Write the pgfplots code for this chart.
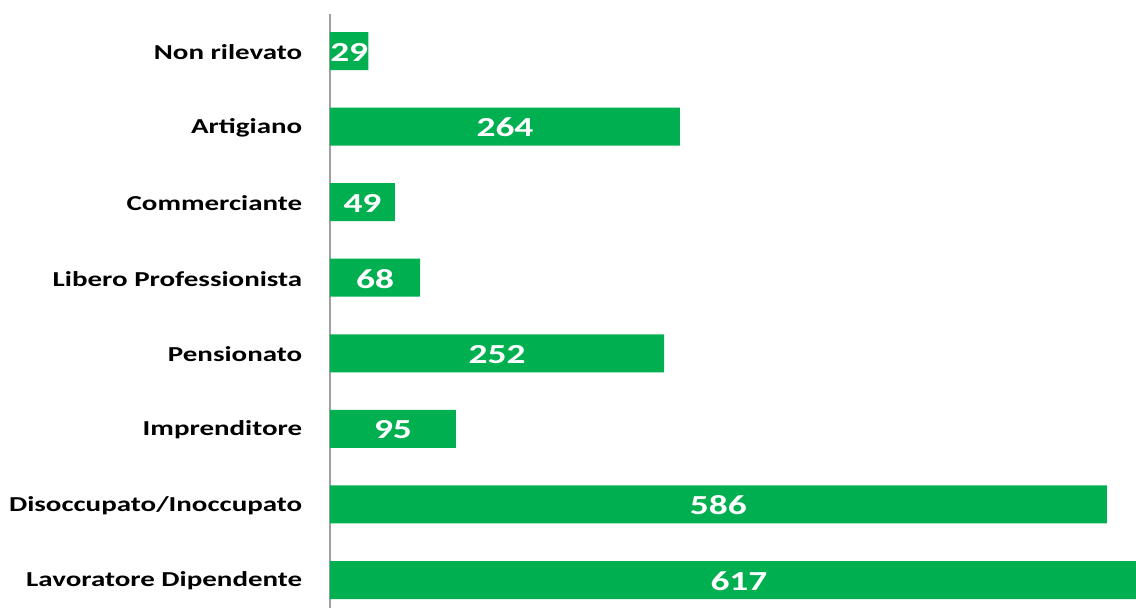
\documentclass[border=0pt]{standalone}
\usepackage{fontspec}
\setmainfont{Carlito}[FakeStretch=1.36]
\usepackage{pgfplots}
\pgfplotsset{compat=1.18}
\definecolor{bargreen}{HTML}{00B050}
\begin{document}
\begin{tikzpicture}[x=1pt,y=1pt]
\useasboundingbox (0,0) rectangle (1136,608);
\begin{axis}[
  at={(330pt,0pt)}, anchor=south west,
  width=806pt, height=594pt, scale only axis,
  xmin=0, xmax=608,
  ymin=-0.37, ymax=7.49,
  xbar, bar width=38pt, bar shift=0pt,
  hide x axis,
  axis y line*=left,
  y axis line style={draw=gray!75, line width=1.3pt, -},
  ytick={0,...,7},
  yticklabels={Lavoratore Dipendente,Disoccupato/Inoccupato,Imprenditore,Pensionato,Libero Professionista,Commerciante,Artigiano,Non rilevato},
  yticklabel style={font=\fontsize{21.3}{24}\selectfont\bfseries, xshift=-20pt, yshift=-1pt},
  ytick style={draw=none},
]
\addplot[fill=bargreen, draw=none] coordinates {
(617,0) (586,1) (95,2) (252,3) (68,4) (49,5) (264,6) (29,7)};
\addplot[draw=none, fill=none,
  point meta=explicit symbolic,
  nodes near coords,
  nodes near coords style={anchor=center, text=white, font=\fontsize{27.5}{29}\selectfont\bfseries, yshift=-1pt}]
  coordinates {
(308.5,0) [617] (293,1) [586] (47.5,2) [95] (126,3) [252] (34,4) [68] (24.5,5) [49] (132,6) [264] (14.5,7) [29]};
\end{axis}
\end{tikzpicture}
\end{document}
